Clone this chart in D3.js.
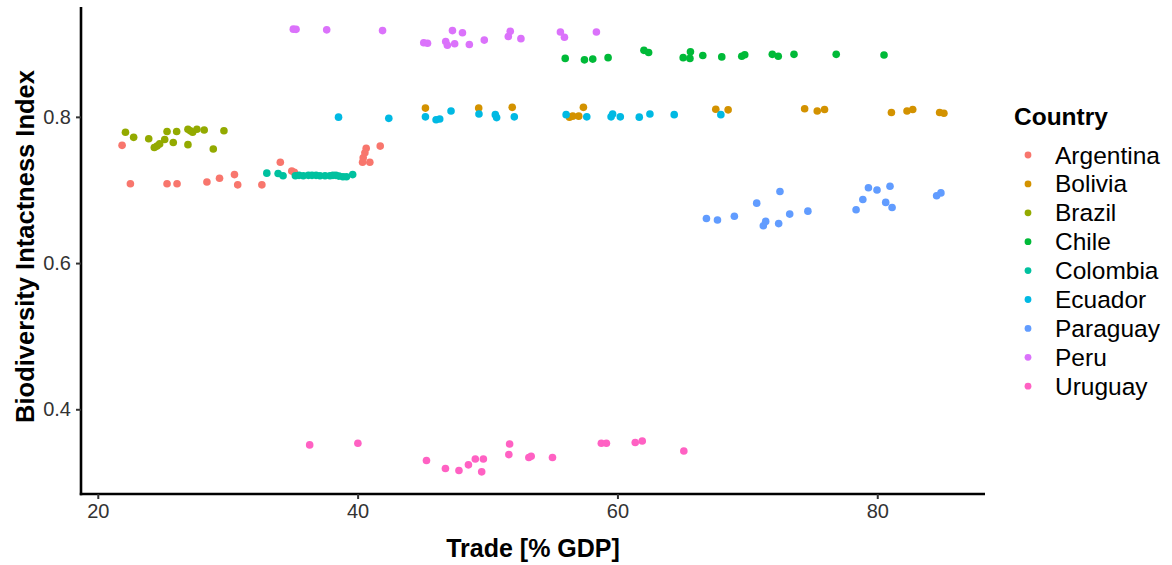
<!DOCTYPE html>
<html lang="en">
<head>
    <meta charset="UTF-8">
    <title>Biodiversity vs Trade</title>
    <script src="https://d3js.org/d3.v7.min.js"></script>
    <style>
        body { margin: 0; background: #fff; font-family: "Liberation Sans", Arial, sans-serif; }
        svg { display: block; }
    </style>
</head>
<body>
    <svg id="chart" width="1172" height="565"></svg>

    <script>
        // Data: [trade % GDP, BII]
        const countries = ['Argentina', 'Bolivia', 'Brazil', 'Chile', 'Colombia', 'Ecuador', 'Paraguay', 'Peru', 'Uruguay'];
        const colors = ['#F8766D', '#D39200', '#93AA00', '#00BA38', '#00C19F', '#00B9E3', '#619CFF', '#DB72FB', '#FF61C3'];

        const argentina = [[21.87,0.761],[22.51,0.7085],[25.33,0.7085],[26.10,0.7085],[28.40,0.711],[29.37,0.716],
            [30.52,0.721],[30.77,0.707],[32.63,0.707],[34.05,0.738],[34.93,0.726],[35.13,0.724],[40.38,0.738],
            [40.43,0.744],[40.56,0.751],[40.66,0.757],[40.94,0.738],[41.74,0.760]];
        const bolivia = [[45.22,0.812],[49.32,0.812],[51.90,0.813],[56.31,0.7996],[56.56,0.801],[57.02,0.801],
            [57.38,0.813],[67.57,0.8105],[68.52,0.8096],[74.41,0.811],[75.38,0.808],[75.94,0.810],[81.09,0.806],
            [82.29,0.808],[82.73,0.810],[84.80,0.806],[85.13,0.805]];
        const brazil = [[22.13,0.779],[22.76,0.772],[23.92,0.770],[24.35,0.758],[24.56,0.760],[24.76,0.763],
            [25.15,0.769],[25.33,0.780],[25.81,0.765],[26.07,0.780],[26.94,0.783],[27.12,0.781],[27.30,0.779],
            [27.63,0.783],[28.19,0.782],[26.94,0.762],[28.89,0.756],[29.71,0.781]];
        const chile = [[55.98,0.880],[57.46,0.878],[58.10,0.879],[59.28,0.881],[62.04,0.891],[62.40,0.888],
            [65.06,0.881],[65.58,0.880],[65.62,0.889],[66.57,0.884],[68.03,0.882],[69.57,0.883],[69.80,0.885],
            [71.92,0.8855],[72.38,0.883],[73.59,0.8855],[76.84,0.8855],[80.52,0.8846]];
        const colombia = [[33.01,0.723],[33.88,0.7226],[34.26,0.7195],[35.21,0.7195],[35.49,0.720],[35.82,0.7195],
            [36.21,0.720],[36.49,0.720],[36.80,0.720],[37.10,0.7195],[37.49,0.7195],[37.87,0.7195],[38.10,0.720],
            [38.33,0.720],[38.56,0.719],[38.87,0.718],[39.14,0.718],[39.62,0.721]];
        const ecuador = [[38.53,0.7996],[42.40,0.798],[45.22,0.800],[46.04,0.796],[46.32,0.797],[47.19,0.808],
            [49.34,0.804],[50.60,0.803],[50.70,0.799],[52.06,0.800],[56.05,0.803],[57.64,0.800],[59.51,0.800],
            [59.63,0.804],[60.22,0.800],[61.68,0.7996],[62.50,0.804],[64.37,0.803],[67.96,0.803]];
        const paraguay = [[66.85,0.661],[67.70,0.659],[69.00,0.664],[70.72,0.682],[71.23,0.651],[71.41,0.657],
            [72.41,0.654],[72.51,0.698],[73.26,0.667],[74.66,0.671],[78.37,0.673],[78.89,0.687],[79.32,0.703],
            [79.98,0.700],[80.65,0.683],[80.98,0.705],[81.14,0.676],[84.57,0.692],[84.90,0.696]];
        const peru = [[35.05,0.920],[35.26,0.9197],[37.62,0.919],[41.92,0.918],[45.09,0.9014],[45.38,0.9006],
            [46.78,0.903],[46.91,0.898],[47.30,0.918],[47.47,0.900],[48.07,0.915],[48.60,0.899],[49.75,0.905],
            [51.60,0.910],[51.75,0.917],[52.57,0.907],[55.61,0.916],[55.92,0.909],[58.38,0.916]];
        const uruguay = [[36.31,0.3513],[40.02,0.3536],[45.30,0.330],[46.76,0.319],[47.80,0.3163],[48.53,0.324],
            [49.06,0.332],[49.68,0.332],[49.55,0.3144],[51.70,0.3526],[51.64,0.338],[53.18,0.334],[53.36,0.3358],
            [55.00,0.334],[58.76,0.3536],[59.15,0.3536],[61.37,0.3545],[61.91,0.3567],[65.11,0.343]];

        const xTicks = [20, 40, 60, 80];
        const yTicks = [0.4, 0.6, 0.8];

        const series = [argentina, bolivia, brazil, chile, colombia, ecuador, paraguay, peru, uruguay];

        const svg = d3.select('#chart');
        const panel = { left: 81, right: 985, top: 7, bottom: 494 };

        // ggplot-style 5% expansion
        const all = series.flat();
        function expand(ext) {
            const pad = (ext[1] - ext[0]) * 0.05;
            return [ext[0] - pad, ext[1] + pad];
        }
        const x = d3.scaleLinear().domain(expand(d3.extent(all, d => d[0]))).range([panel.left, panel.right]);
        const y = d3.scaleLinear().domain(expand(d3.extent(all, d => d[1]))).range([panel.bottom, panel.top]);

        // Points
        const pts = svg.append('g');
        series.forEach((s, i) => {
            pts.selectAll(null)
                .data(s)
                .enter().append('circle')
                .attr('cx', d => x(d[0]))
                .attr('cy', d => y(d[1]))
                .attr('r', 3.8)
                .attr('fill', colors[i]);
        });

        // Axes
        const xAxis = svg.append('g')
            .attr('transform', `translate(0,${panel.bottom})`)
            .call(d3.axisBottom(x).tickValues(xTicks).tickSize(5).tickPadding(5).tickFormat(d3.format('d')));
        xAxis.select('.domain').attr('d', `M${panel.left - 1.2},0H${panel.right}`).attr('stroke', '#000').attr('stroke-width', 2.6);
        xAxis.selectAll('.tick line').attr('stroke', '#333').attr('stroke-width', 2);
        xAxis.selectAll('.tick text')
            .attr('fill', '#333')
            .style('font-size', '20px')
            .style('font-family', '"Liberation Sans", Arial, sans-serif');

        const yAxis = svg.append('g')
            .attr('transform', `translate(${panel.left},0)`)
            .call(d3.axisLeft(y).tickValues(yTicks).tickSize(5).tickPadding(5).tickFormat(d3.format('.1f')));
        yAxis.select('.domain').attr('d', `M0,${panel.top}V${panel.bottom + 1.2}`).attr('stroke', '#000').attr('stroke-width', 2.6);
        yAxis.selectAll('.tick line').attr('stroke', '#333').attr('stroke-width', 2);
        yAxis.selectAll('.tick text')
            .attr('fill', '#333')
            .style('font-size', '20px')
            .style('font-family', '"Liberation Sans", Arial, sans-serif');

        // Axis titles
        svg.append('text')
            .attr('x', (panel.left + panel.right) / 2)
            .attr('y', 557)
            .attr('text-anchor', 'middle')
            .style('font-size', '25px')
            .style('font-weight', 'bold')
            .text('Trade [% GDP]');

        svg.append('text')
            .attr('transform', `translate(34,${(panel.top + panel.bottom) / 2 - 4}) rotate(-90)`)
            .attr('text-anchor', 'middle')
            .style('font-size', '25.5px')
            .style('font-weight', 'bold')
            .text('Biodiversity Intactness Index');

        // Legend
        const legend = svg.append('g').attr('transform', 'translate(1014,0)');
        legend.append('text')
            .attr('x', 0)
            .attr('y', 125)
            .style('font-size', '24.5px')
            .style('font-weight', 'bold')
            .text('Country');

        const item = legend.selectAll('.item')
            .data(countries)
            .enter().append('g')
            .attr('transform', (d, i) => `translate(0,${155 + i * 28.9})`);
        item.append('circle')
            .attr('cx', 14)
            .attr('cy', 0)
            .attr('r', 3.4)
            .attr('fill', (d, i) => colors[i]);
        item.append('text')
            .attr('x', 41)
            .attr('y', 0)
            .attr('dy', '0.35em')
            .style('font-size', '24.5px')
            .text(d => d);
    </script>
</body>
</html>
